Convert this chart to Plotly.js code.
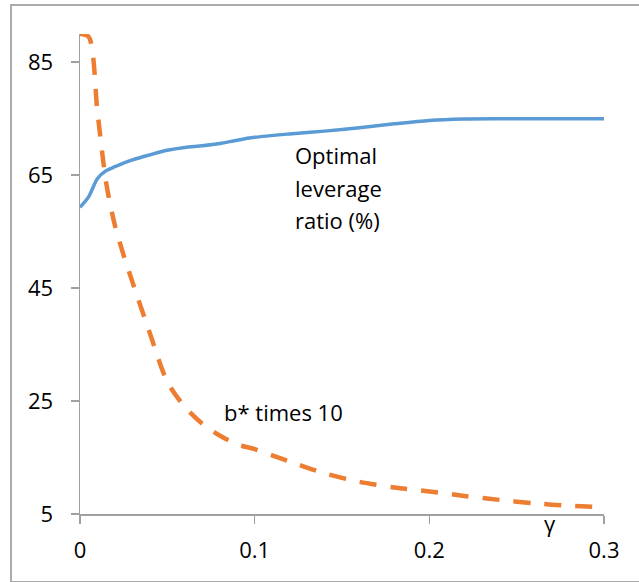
<!DOCTYPE html>
<html>
<head>
<meta charset="utf-8">
<script src="https://cdn.plot.ly/plotly-3.0.1.min.js"></script>
<style>
  html, body { margin: 0; padding: 0; background: #fff; overflow: hidden; }
  #chart { width: 639px; height: 582px; position: absolute; left: 0; top: 0; }
  #frame { position: absolute; left: 10px; top: 4px; width: 660px; height: 575px;
           border: 2px solid #ababab; pointer-events: none; }
</style>
</head>
<body>
<div id="chart"></div>
<div id="frame"></div>
<script>
// gamma values
const gammaLev = [0, 0.005, 0.01, 0.015, 0.02, 0.03, 0.04, 0.05, 0.06, 0.07, 0.08, 0.09, 0.1, 0.12, 0.14, 0.16, 0.18, 0.2, 0.22, 0.24, 0.26, 0.28, 0.3];
// Optimal leverage ratio (%)
const leverage = [59.3, 61.2, 64.4, 65.8, 66.5, 67.7, 68.6, 69.4, 69.9, 70.2, 70.6, 71.2, 71.7, 72.3, 72.8, 73.4, 74.1, 74.7, 74.95, 75.0, 75.0, 75.0, 75.0];

const gammaB = [0, 0.005, 0.01, 0.015, 0.02, 0.025, 0.03, 0.04, 0.05, 0.06, 0.07, 0.08, 0.09, 0.1, 0.11, 0.12, 0.14, 0.16, 0.18, 0.2, 0.22, 0.24, 0.26, 0.28, 0.3];
// b* times 10
const bTimes10 = [90, 89.5, 76.2, 63.6, 56.1, 50.8, 46.1, 37.0, 28.4, 24.0, 21.0, 18.9, 17.3, 16.5, 15.4, 14.3, 12.2, 10.7, 9.7, 9.0, 8.2, 7.5, 6.9, 6.45, 6.2];

const yTicks = [5, 25, 45, 65, 85];
const xTicks = [0, 0.1, 0.2, 0.3];
const xTickText = ['0', '0.1', '0.2', '0.3'];

const FONT = 'Open Sans, sans-serif';

const traces = [
  {
    x: gammaLev, y: leverage, type: 'scatter', mode: 'lines',
    line: { color: '#5B9BD5', width: 3.5, shape: 'spline', smoothing: 0.8 },
    name: 'Optimal leverage ratio (%)', hoverinfo: 'skip'
  },
  {
    x: gammaB, y: bTimes10, type: 'scatter', mode: 'lines',
    line: { color: '#ED7D31', width: 4.5, shape: 'spline', smoothing: 0.8, dash: '17px,14px' },
    name: 'b* times 10', hoverinfo: 'skip'
  }
];

const ann = (text, x, y, xanchor, yref) => ({
  text: text, x: x, y: y, xref: 'x', yref: yref || 'y', xanchor: xanchor, yanchor: 'middle',
  showarrow: false, font: { family: FONT, size: 22, color: '#000' }
});

const layout = {
  width: 639, height: 582,
  margin: { l: 80, r: 35, t: 34, b: 68 },
  paper_bgcolor: '#fff', plot_bgcolor: '#fff',
  showlegend: false,
  font: { family: FONT, size: 22, color: '#000' },
  xaxis: {
    range: [0, 0.3], tickvals: xTicks, ticktext: xTickText,
    showgrid: false, zeroline: false, showline: true, linecolor: '#a0a0a0', linewidth: 1.5,
    ticks: 'outside', ticklen: 8, tickcolor: '#a0a0a0', tickwidth: 1.5,
    tickfont: { family: FONT, size: 22, color: '#000' }, ticklabelstandoff: 8
  },
  yaxis: {
    range: [5, 90], tickvals: yTicks,
    showgrid: false, zeroline: false, showline: true, linecolor: '#a0a0a0', linewidth: 1.5,
    ticks: 'outside', ticklen: 8, tickcolor: '#a0a0a0', tickwidth: 1.5,
    tickfont: { family: FONT, size: 22, color: '#000' }, ticklabelstandoff: 13
  },
  annotations: [
    ann('Optimal', 0.1218, 68.5, 'left'),
    ann('leverage', 0.1218, 62.7, 'left'),
    ann('ratio (%)', 0.1218, 57.0, 'left'),
    ann('b* times 10', 0.0811, 23.05, 'left'),
    ann('γ', 0.269, -0.018, 'center', 'paper')
  ]
};

Plotly.newPlot('chart', traces, layout, { staticPlot: true, displayModeBar: false });
</script>
</body>
</html>
